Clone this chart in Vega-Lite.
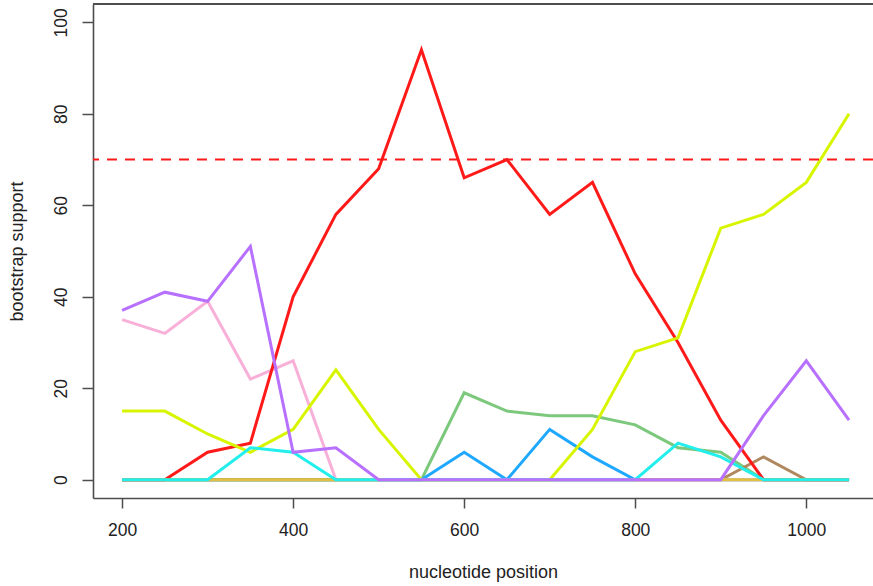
{
  "$schema": "https://vega.github.io/schema/vega-lite/v6.json",
  "autosize": "none",
  "padding": {"left": 93, "top": 4, "right": 0, "bottom": 88},
  "width": 780,
  "height": 494,
  "background": "white",
  "config": {
    "view": {"stroke": null},
    "font": "Liberation Sans",
    "axis": {"grid": false, "domainColor": "#4d4d4d", "domainWidth": 1.6, "tickColor": "#4d4d4d", "tickWidth": 1.5, "labelColor": "#222222", "titleColor": "#222222", "labelFontSize": 17.5, "titleFontSize": 18, "titleFontWeight": "normal", "labelFont": "Liberation Sans", "titleFont": "Liberation Sans"}
  },
  "datasets": {
    "series": [
      {"s": "green", "x": 200, "y": 0}, {"s": "green", "x": 250, "y": 0}, {"s": "green", "x": 300, "y": 0}, {"s": "green", "x": 350, "y": 0}, {"s": "green", "x": 400, "y": 0}, {"s": "green", "x": 450, "y": 0}, {"s": "green", "x": 500, "y": 0}, {"s": "green", "x": 550, "y": 0}, {"s": "green", "x": 600, "y": 19}, {"s": "green", "x": 650, "y": 15}, {"s": "green", "x": 700, "y": 14}, {"s": "green", "x": 750, "y": 14}, {"s": "green", "x": 800, "y": 12}, {"s": "green", "x": 850, "y": 7}, {"s": "green", "x": 900, "y": 6}, {"s": "green", "x": 950, "y": 0}, {"s": "green", "x": 1000, "y": 0}, {"s": "green", "x": 1050, "y": 0},
      {"s": "blue", "x": 200, "y": 0}, {"s": "blue", "x": 250, "y": 0}, {"s": "blue", "x": 300, "y": 0}, {"s": "blue", "x": 350, "y": 0}, {"s": "blue", "x": 400, "y": 0}, {"s": "blue", "x": 450, "y": 0}, {"s": "blue", "x": 500, "y": 0}, {"s": "blue", "x": 550, "y": 0}, {"s": "blue", "x": 600, "y": 6}, {"s": "blue", "x": 650, "y": 0}, {"s": "blue", "x": 700, "y": 11}, {"s": "blue", "x": 750, "y": 5}, {"s": "blue", "x": 800, "y": 0}, {"s": "blue", "x": 850, "y": 0}, {"s": "blue", "x": 900, "y": 0}, {"s": "blue", "x": 950, "y": 0}, {"s": "blue", "x": 1000, "y": 0}, {"s": "blue", "x": 1050, "y": 0},
      {"s": "brown", "x": 200, "y": 0}, {"s": "brown", "x": 250, "y": 0}, {"s": "brown", "x": 300, "y": 0}, {"s": "brown", "x": 350, "y": 0}, {"s": "brown", "x": 400, "y": 0}, {"s": "brown", "x": 450, "y": 0}, {"s": "brown", "x": 500, "y": 0}, {"s": "brown", "x": 550, "y": 0}, {"s": "brown", "x": 600, "y": 0}, {"s": "brown", "x": 650, "y": 0}, {"s": "brown", "x": 700, "y": 0}, {"s": "brown", "x": 750, "y": 0}, {"s": "brown", "x": 800, "y": 0}, {"s": "brown", "x": 850, "y": 0}, {"s": "brown", "x": 900, "y": 0}, {"s": "brown", "x": 950, "y": 5}, {"s": "brown", "x": 1000, "y": 0}, {"s": "brown", "x": 1050, "y": 0},
      {"s": "pink", "x": 200, "y": 35}, {"s": "pink", "x": 250, "y": 32}, {"s": "pink", "x": 300, "y": 39}, {"s": "pink", "x": 350, "y": 22}, {"s": "pink", "x": 400, "y": 26}, {"s": "pink", "x": 450, "y": 0}, {"s": "pink", "x": 500, "y": 0}, {"s": "pink", "x": 550, "y": 0}, {"s": "pink", "x": 600, "y": 0}, {"s": "pink", "x": 650, "y": 0}, {"s": "pink", "x": 700, "y": 0}, {"s": "pink", "x": 750, "y": 0}, {"s": "pink", "x": 800, "y": 0}, {"s": "pink", "x": 850, "y": 0}, {"s": "pink", "x": 900, "y": 0}, {"s": "pink", "x": 950, "y": 0}, {"s": "pink", "x": 1000, "y": 0}, {"s": "pink", "x": 1050, "y": 0},
      {"s": "red", "x": 200, "y": 0}, {"s": "red", "x": 250, "y": 0}, {"s": "red", "x": 300, "y": 6}, {"s": "red", "x": 350, "y": 8}, {"s": "red", "x": 400, "y": 40}, {"s": "red", "x": 450, "y": 58}, {"s": "red", "x": 500, "y": 68}, {"s": "red", "x": 550, "y": 94}, {"s": "red", "x": 600, "y": 66}, {"s": "red", "x": 650, "y": 70}, {"s": "red", "x": 700, "y": 58}, {"s": "red", "x": 750, "y": 65}, {"s": "red", "x": 800, "y": 45}, {"s": "red", "x": 850, "y": 30}, {"s": "red", "x": 900, "y": 13}, {"s": "red", "x": 950, "y": 0}, {"s": "red", "x": 1000, "y": 0}, {"s": "red", "x": 1050, "y": 0},
      {"s": "lime", "x": 200, "y": 15}, {"s": "lime", "x": 250, "y": 15}, {"s": "lime", "x": 300, "y": 10}, {"s": "lime", "x": 350, "y": 6}, {"s": "lime", "x": 400, "y": 11}, {"s": "lime", "x": 450, "y": 24}, {"s": "lime", "x": 500, "y": 11}, {"s": "lime", "x": 550, "y": 0}, {"s": "lime", "x": 600, "y": 0}, {"s": "lime", "x": 650, "y": 0}, {"s": "lime", "x": 700, "y": 0}, {"s": "lime", "x": 750, "y": 11}, {"s": "lime", "x": 800, "y": 28}, {"s": "lime", "x": 850, "y": 31}, {"s": "lime", "x": 900, "y": 55}, {"s": "lime", "x": 950, "y": 58}, {"s": "lime", "x": 1000, "y": 65}, {"s": "lime", "x": 1050, "y": 80},
      {"s": "gold", "x": 200, "y": 0}, {"s": "gold", "x": 250, "y": 0}, {"s": "gold", "x": 300, "y": 0}, {"s": "gold", "x": 350, "y": 0}, {"s": "gold", "x": 400, "y": 0}, {"s": "gold", "x": 450, "y": 0}, {"s": "gold", "x": 500, "y": 0}, {"s": "gold", "x": 550, "y": 0}, {"s": "gold", "x": 600, "y": 0}, {"s": "gold", "x": 650, "y": 0}, {"s": "gold", "x": 700, "y": 0}, {"s": "gold", "x": 750, "y": 0}, {"s": "gold", "x": 800, "y": 0}, {"s": "gold", "x": 850, "y": 0}, {"s": "gold", "x": 900, "y": 0}, {"s": "gold", "x": 950, "y": 0}, {"s": "gold", "x": 1000, "y": 0}, {"s": "gold", "x": 1050, "y": 0},
      {"s": "cyan", "x": 200, "y": 0}, {"s": "cyan", "x": 250, "y": 0}, {"s": "cyan", "x": 300, "y": 0}, {"s": "cyan", "x": 350, "y": 7}, {"s": "cyan", "x": 400, "y": 6}, {"s": "cyan", "x": 450, "y": 0}, {"s": "cyan", "x": 500, "y": 0}, {"s": "cyan", "x": 550, "y": 0}, {"s": "cyan", "x": 600, "y": 0}, {"s": "cyan", "x": 650, "y": 0}, {"s": "cyan", "x": 700, "y": 0}, {"s": "cyan", "x": 750, "y": 0}, {"s": "cyan", "x": 800, "y": 0}, {"s": "cyan", "x": 850, "y": 8}, {"s": "cyan", "x": 900, "y": 5}, {"s": "cyan", "x": 950, "y": 0}, {"s": "cyan", "x": 1000, "y": 0}, {"s": "cyan", "x": 1050, "y": 0},
      {"s": "purple", "x": 200, "y": 37}, {"s": "purple", "x": 250, "y": 41}, {"s": "purple", "x": 300, "y": 39}, {"s": "purple", "x": 350, "y": 51}, {"s": "purple", "x": 400, "y": 6}, {"s": "purple", "x": 450, "y": 7}, {"s": "purple", "x": 500, "y": 0}, {"s": "purple", "x": 550, "y": 0}, {"s": "purple", "x": 600, "y": 0}, {"s": "purple", "x": 650, "y": 0}, {"s": "purple", "x": 700, "y": 0}, {"s": "purple", "x": 750, "y": 0}, {"s": "purple", "x": 800, "y": 0}, {"s": "purple", "x": 850, "y": 0}, {"s": "purple", "x": 900, "y": 0}, {"s": "purple", "x": 950, "y": 14}, {"s": "purple", "x": 1000, "y": 26}, {"s": "purple", "x": 1050, "y": 13}
    ]
  },
  "layer": [
    {
      "data": {"name": "series"},
      "mark": {"type": "line", "strokeWidth": 3, "clip": true},
      "encoding": {
        "x": {"field": "x", "type": "quantitative", "scale": {"domain": [166, 1078], "nice": false, "zero": false},
          "axis": {"values": [200, 400, 600, 800, 1000], "format": "d", "title": "nucleotide position", "tickSize": 10, "labelPadding": 13, "labelBaseline": "top", "titleY": 74, "titleBaseline": "middle"}},
        "y": {"field": "y", "type": "quantitative", "scale": {"domain": [-4, 104], "nice": false, "zero": false},
          "axis": {"values": [0, 20, 40, 60, 80, 100], "format": "d", "title": "bootstrap support", "tickSize": 11, "labelAngle": 270, "labelAlign": "center", "labelBaseline": "bottom", "labelPadding": 12, "titleX": -76, "titleBaseline": "middle"}},
        "color": {"field": "s", "type": "nominal", "legend": null,
          "scale": {"domain": ["green", "blue", "brown", "pink", "red", "lime", "gold", "cyan", "purple"],
                    "range": ["#7CC87C", "#1EA8FF", "#B08860", "#F8B0D8", "#FF1A1A", "#D8F500", "#E0C040", "#22EEEC", "#B870FF"]}},
        "order": {"field": "x", "type": "quantitative"}
      }
    },
    {
      "data": {"values": [{"y": 70}]},
      "mark": {"type": "rule", "color": "#FF1A1A", "strokeWidth": 2.2, "strokeDash": [10, 8]},
      "encoding": {"y": {"field": "y", "type": "quantitative"}}
    },
    {
      "data": {"values": [{"y": 104}]},
      "mark": {"type": "rule", "color": "#4d4d4d", "strokeWidth": 1.8},
      "encoding": {"y": {"field": "y", "type": "quantitative"}}
    }
  ]
}
